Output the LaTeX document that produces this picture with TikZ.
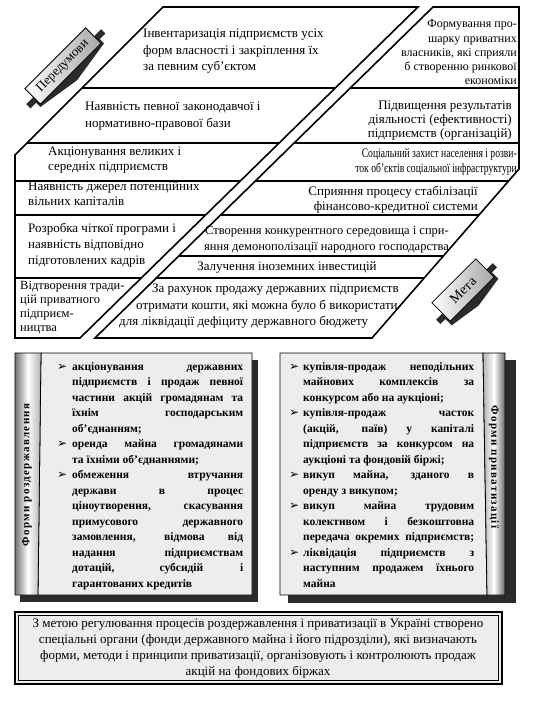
\documentclass[tikz,border=0pt]{standalone}
\usepackage{fontspec}
\setmainfont{Liberation Serif}
\newfontfamily\symfont{DejaVu Sans}
\newfontfamily\sidefont[LetterSpace=12]{Liberation Serif}
\newfontfamily\condfont[FakeStretch=0.74]{Liberation Serif}
\newcommand\tfnt{\fontsize{13bp}{15bp}\selectfont}
\newcommand\tfmid{\fontsize{12.5bp}{14bp}\selectfont}
\newcommand\tfsm{\fontsize{12bp}{14bp}\selectfont}
\newcommand\bfnt{\fontsize{11.5bp}{15bp}\selectfont\bfseries}
\newcommand\jline[1]{\makebox[171bp][s]{#1}}
\definecolor{shadowc}{gray}{0.17}
\definecolor{panelc}{gray}{0.93}
\begin{document}
\begin{tikzpicture}[x=1bp,y=-1bp,
  tl/.style={inner sep=0pt,anchor=mid west,font=\tfnt},
  tlm/.style={inner sep=0pt,anchor=mid west,font=\tfmid},
  tr/.style={inner sep=0pt,anchor=mid east,font=\tfnt},
  trm/.style={inner sep=0pt,anchor=mid east,font=\tfmid},
  trs/.style={inner sep=0pt,anchor=mid east,font=\tfsm},
  trc/.style={inner sep=0pt,anchor=mid east,font=\tfnt\condfont},
  tc/.style={inner sep=0pt,anchor=mid,font=\tfnt},
  bt/.style={inner sep=0pt,anchor=mid west,font=\bfnt},
  bul/.style={inner sep=0pt,anchor=mid west,font=\fontsize{12bp}{12bp}\selectfont\symfont},
  hline/.style={line width=1.3bp,black},
  outline/.style={line width=1.6bp,black,line join=miter},
  panel/.style={fill=panelc,draw=black,line width=0.8bp},
  shadowbox/.style={fill=shadowc},
  sidelab/.style={inner sep=0pt,font=\fontsize{11bp}{12bp}\selectfont\sidefont\bfseries},
  banner/.style={draw=black,line width=0.8bp,left color=white,right color=black!35},
  bandark/.style={fill=shadowc}
]
\useasboundingbox[fill=white] (0,0) rectangle (539,717);

% ---------- top section: horizontal lines ----------
\begin{scope}
  \clip (163,7) -- (418,7) -- (80,338) -- (15,338) -- (15,155) -- cycle;
  \foreach \yy in {88,143,181,215,278} \draw[hline] (0,\yy) -- (539,\yy);
\end{scope}
\begin{scope}
  \clip (433,7) -- (519,7) -- (519,169) -- (372,338) -- (95,338) -- cycle;
  \foreach \yy in {88,143,181,215,256,278} \draw[hline] (0,\yy) -- (539,\yy);
\end{scope}
\draw[outline] (163,7) -- (418,7) -- (80,338) -- (15,338) -- (15,155) -- cycle;
\draw[outline] (433,7) -- (519,7) -- (519,169) -- (372,338) -- (95,338) -- cycle;

% ---------- left texts ----------
\node[tl] (l1a) at (143,35) {Інвентаризація підприємств усіх};
\node[tl] (l1b) at (143,52) {форм власності і закріплення їх};
\node[tl] (l1c) at (143,68) {за певним суб’єктом};
\node[tl] (l2a) at (85,108) {Наявність певної законодавчої і};
\node[tl] (l2b) at (85,125) {нормативно-правової бази};
\node[tl] (l3a) at (48,153) {Акціонування великих і};
\node[tl] (l3b) at (48,168) {середніх підприємств};
\node[tl] (l4a) at (28,188) {Наявність джерел потенційних};
\node[tl] (l4b) at (28,203) {вільних капіталів};
\node[tl] (l5a) at (28,230) {Розробка чіткої програми і};
\node[tl] (l5b) at (28,246) {наявність відповідно};
\node[tl] (l5c) at (28,262) {підготовлених кадрів};
\node[tlm] (l6a) at (20,287) {Відтворення тради-};
\node[tlm] (l6b) at (20,301) {цій приватного};
\node[tlm] (l6c) at (20,315) {підприєм-};
\node[tlm] (l6d) at (20,329) {ництва};

% ---------- right texts ----------
\node[trs] (r1a) at (517,25) {Формування про-};
\node[trs] (r1b) at (517,40) {шарку приватних};
\node[trs] (r1c) at (517,54) {власників, які сприяли};
\node[trs] (r1d) at (517,68) {б створенню ринкової};
\node[trs] (r1e) at (517,82) {економіки};
\node[tr] (r2a) at (512,107) {Підвищення результатів};
\node[tr] (r2b) at (512,121) {діяльності (ефективності)};
\node[tr] (r2c) at (512,135) {підприємств (організацій)};
\node[trc] (r3a) at (517,155) {Соціальний захист населення і розви-};
\node[trc] (r3b) at (517,170) {ток об’єктів соціальної інфраструктури};
\node[tr] (r4a) at (478,193) {Сприяння процесу стабілізації};
\node[tr] (r4b) at (478,208) {фінансово-кредитної системи};
\node[trm] (r5a) at (449,232) {Створення конкурентного середовища і спри-};
\node[trm] (r5b) at (449,248) {яння демонополізації народного господарства};
\node[tc] (r6a) at (287,268) {Залучення іноземних інвестицій};
\node[tl] (r7a) at (152,290) {За рахунок продажу державних підприємств};
\node[tl] (r7b) at (136,307) {отримати кошти, які можна було б використати};
\node[tl] (r7c) at (119,323) {для ліквідації дефіциту державного бюджету};

% ---------- banner: Передумови ----------
\begin{scope}[shift={(63,66)},rotate=45]
  \fill[bandark] (-53,1) -- (53,1) -- (53,7) -- (45,7) -- (45,13) -- (0,20) -- (-45,13) -- (-45,7) -- (-53,7) -- cycle;
  \draw[banner] (-43,-11) rectangle (43,11);
  \node[inner sep=0pt,transform shape,font=\fontsize{13bp}{15bp}\selectfont] (pered) at (0,0) {Передумови};
\end{scope}

% ---------- banner: Мета ----------
\begin{scope}[shift={(463,290)},rotate=45]
  \fill[bandark] (-40,2) -- (40,2) -- (40,8) -- (33,8) -- (33,17) -- (0,22) -- (-33,17) -- (-33,8) -- (-40,8) -- cycle;
  \draw[banner] (-31,-13) rectangle (31,13);
  \node[inner sep=0pt,transform shape,font=\fontsize{14bp}{16bp}\selectfont] (meta) at (0,0) {Мета};
\end{scope}

% ---------- left lower box ----------
\fill[shadowbox] (20,360) rectangle (258,602);
\draw[panel] (41,353) -- (252,353) -- (252,595) -- (38,595) -- cycle;
\draw[line width=0.8bp,left color=black!55,right color=black!30,middle color=white] (15,353) -- (41,353) -- (38,595) -- (15,595) -- cycle;
\node[sidelab,rotate=90] (sideL) at (27,475) {Форми роздержавлення};

\node[bul] (lb1) at (57,368) {➢};
\node[bt] (lt1) at (72,368) {\jline{акціонування державних}};
\node[bt] (lt2) at (72,383.5) {\jline{підприємств і продаж певної}};
\node[bt] (lt3) at (72,399) {\jline{частини акцій громадянам та}};
\node[bt] (lt4) at (72,414.5) {\jline{їхнім господарським}};
\node[bt] (lt5) at (72,430) {об’єднанням;};
\node[bul] (lb6) at (57,445.5) {➢};
\node[bt] (lt6) at (72,445.5) {\jline{оренда майна громадянами}};
\node[bt] (lt7) at (72,461) {та їхніми об’єднаннями;};
\node[bul] (lb8) at (57,476.5) {➢};
\node[bt] (lt8) at (72,476.5) {\jline{обмеження втручання}};
\node[bt] (lt9) at (72,492) {\jline{держави в процес}};
\node[bt] (lt10) at (72,507.5) {\jline{ціноутворення, скасування}};
\node[bt] (lt11) at (72,523) {\jline{примусового державного}};
\node[bt] (lt12) at (72,538.5) {\jline{замовлення, відмова від}};
\node[bt] (lt13) at (72,554) {\jline{надання підприємствам}};
\node[bt] (lt14) at (72,569.5) {\jline{дотацій, субсидій і}};
\node[bt] (lt15) at (72,585) {гарантованих кредитів};

% ---------- right lower box ----------
\fill[shadowbox] (288,360) rectangle (516,603);
\draw[panel] (280,353) -- (483,353) -- (487,595) -- (280,595) -- cycle;
\draw[line width=0.8bp,left color=black!30,right color=black!60,middle color=white] (483,353) -- (505,353) -- (505,595) -- (487,595) -- cycle;
\node[sidelab,rotate=-90] (sideR) at (494,467) {Форми приватизації};

\node[bul] (rb1) at (289,368) {➢};
\node[bt] (rt1) at (303,368) {\jline{купівля-продаж неподільних}};
\node[bt] (rt2) at (303,383.5) {\jline{майнових комплексів за}};
\node[bt] (rt3) at (303,399) {конкурсом або на аукціоні;};
\node[bul] (rb4) at (289,414.5) {➢};
\node[bt] (rt4) at (303,414.5) {\jline{купівля-продаж часток}};
\node[bt] (rt5) at (303,430) {\jline{(акцій, паїв) у капіталі}};
\node[bt] (rt6) at (303,445.5) {\jline{підприємств за конкурсом на}};
\node[bt] (rt7) at (303,461) {аукціоні та фондовій біржі;};
\node[bul] (rb8) at (289,476.5) {➢};
\node[bt] (rt8) at (303,476.5) {\jline{викуп майна, зданого в}};
\node[bt] (rt9) at (303,492) {оренду з викупом;};
\node[bul] (rb10) at (289,507.5) {➢};
\node[bt] (rt10) at (303,507.5) {\jline{викуп майна трудовим}};
\node[bt] (rt11) at (303,523) {\jline{колективом і безкоштовна}};
\node[bt] (rt12) at (303,538.5) {\jline{передача окремих підприємств;}};
\node[bul] (rb13) at (289,554) {➢};
\node[bt] (rt13) at (303,554) {\jline{ліквідація підприємств з}};
\node[bt] (rt14) at (303,569.5) {\jline{наступним продажем їхнього}};
\node[bt] (rt15) at (303,585) {майна};

% ---------- bottom box ----------
\draw[fill=panelc,line width=2.2bp] (15,612) rectangle (502,684);
\draw[line width=0.6bp] (18.5,615.5) rectangle (498.5,680.5);
\node[tc] (b1) at (258,625) {З метою регулювання процесів роздержавлення і приватизації в Україні створено};
\node[tc] (b2) at (258,641) {спеціальні органи (фонди державного майна і його підрозділи), які визначають};
\node[tc] (b3) at (258,657) {форми, методи і принципи приватизації, організовують і контролюють продаж};
\node[tc] (b4) at (258,673) {акцій на фондових біржах};
\end{tikzpicture}
\end{document}
